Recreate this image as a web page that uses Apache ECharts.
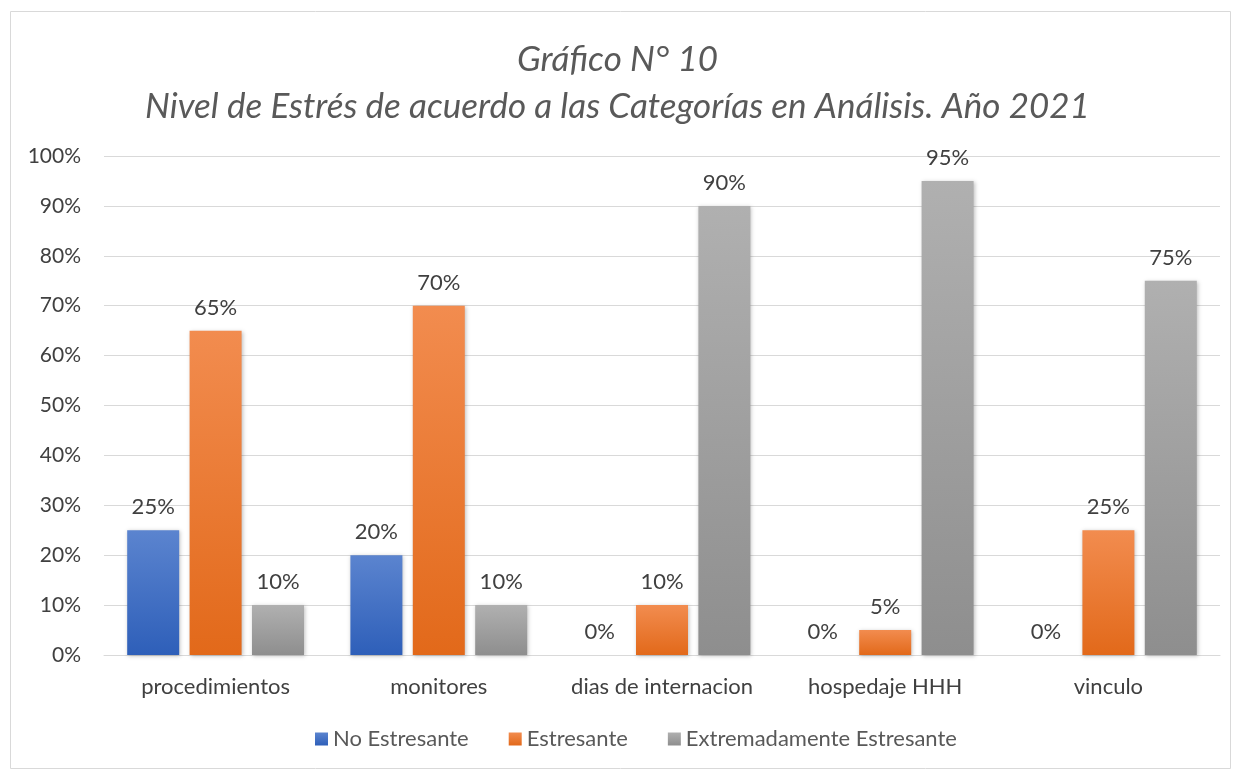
<!DOCTYPE html>
<html>
<head>
<meta charset="utf-8">
<script src="https://cdn.jsdelivr.net/npm/echarts@6/dist/echarts.min.js"></script>
<style>
  html, body { margin: 0; padding: 0; background: #fff; }
  #chart { width: 1235px; height: 770px; }
</style>
</head>
<body>
<div id="chart"></div>
<script>
// datos del grafico
const categorias = ["procedimientos", "monitores", "dias de internacion", "hospedaje HHH", "vinculo"];
const noEstresante = [25, 20, 0, 0, 0];
const estresante = [65, 70, 10, 5, 25];
const extremadamente = [10, 10, 90, 95, 75];
const nombresSeries = ["No Estresante", "Estresante", "Extremadamente Estresante"];

const fuente = "Lato, 'Open Sans', sans-serif";

function degradado(arriba, abajo) {
  return new echarts.graphic.LinearGradient(0, 0, 0, 1, [
    { offset: 0, color: arriba },
    { offset: 1, color: abajo },
  ]);
}

const etiqueta = {
  show: true,
  position: "top",
  distance: 12,
  color: "#404040",
  fontSize: 22,
  fontFamily: fuente,
  formatter: "{c}%",
};

const chart = echarts.init(document.getElementById("chart"));

chart.setOption({
  animation: false,
  graphic: [
    {
      type: "rect",
      shape: { x: 10.5, y: 11.5, width: 1220, height: 757 },
      style: { fill: "none", stroke: "#d9d9d9", lineWidth: 1 },
      silent: true,
    },
  ],
  title: {
    text: "Gráfico N° 10\nNivel de Estrés de acuerdo a las Categorías en Análisis. Año 2021",
    left: "center",
    top: 31,
    textStyle: {
      fontFamily: fuente,
      fontStyle: "italic",
      fontWeight: "normal",
      fontSize: 35,
      color: "#595959",
      lineHeight: 47,
    },
  },
  legend: {
    data: nombresSeries,
    bottom: 15,
    left: 310,
    icon: "rect",
    itemWidth: 13,
    itemHeight: 13,
    itemGap: 40,
    textStyle: { fontFamily: fuente, fontSize: 22, color: "#595959" },
  },
  grid: {
    left: 104,
    right: 15,
    top: 156,
    bottom: 115,
  },
  xAxis: {
    type: "category",
    data: categorias,
    axisLine: { show: true, lineStyle: { color: "#d9d9d9", width: 1 } },
    axisTick: { show: false },
    axisLabel: { color: "#404040", fontSize: 22, fontFamily: fuente, margin: 21, interval: 0 },
  },
  yAxis: {
    type: "value",
    min: 0,
    max: 100,
    interval: 10,
    axisLine: { show: false },
    axisTick: { show: false },
    splitLine: { lineStyle: { color: "#d9d9d9", width: 1 } },
    axisLabel: {
      color: "#404040",
      fontSize: 21,
      fontFamily: fuente,
      margin: 23,
      formatter: "{value}%",
    },
  },
  series: [
    {
      name: nombresSeries[0],
      type: "bar",
      data: noEstresante,
      barWidth: 52,
      barGap: "20%",
      itemStyle: {
        color: degradado("#5b84cf", "#2e5fb9"),
        shadowColor: "rgba(0,0,0,0.25)",
        shadowBlur: 4,
        shadowOffsetX: 1,
        shadowOffsetY: 1,
      },
      label: etiqueta,
    },
    {
      name: nombresSeries[1],
      type: "bar",
      data: estresante,
      barWidth: 52,
      barGap: "20%",
      itemStyle: {
        color: degradado("#f28c4f", "#e2691a"),
        shadowColor: "rgba(0,0,0,0.25)",
        shadowBlur: 4,
        shadowOffsetX: 1,
        shadowOffsetY: 1,
      },
      label: etiqueta,
    },
    {
      name: nombresSeries[2],
      type: "bar",
      data: extremadamente,
      barWidth: 52,
      barGap: "20%",
      itemStyle: {
        color: degradado("#b0b0b0", "#8e8e8e"),
        shadowColor: "rgba(0,0,0,0.25)",
        shadowBlur: 4,
        shadowOffsetX: 1,
        shadowOffsetY: 1,
      },
      label: etiqueta,
    },
  ],
});
</script>
</body>
</html>
